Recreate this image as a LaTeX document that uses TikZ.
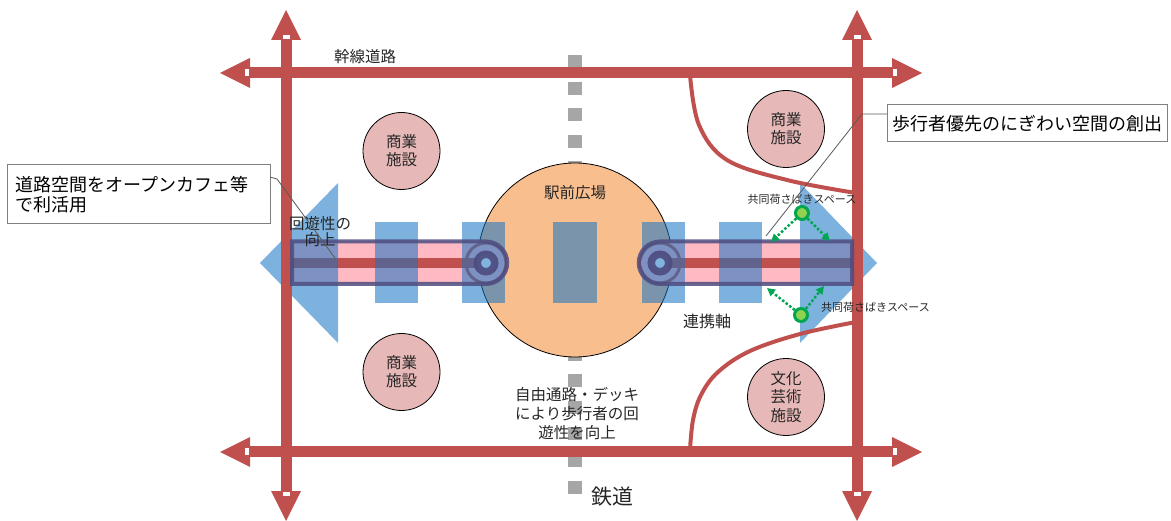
\documentclass[tikz,border=0pt]{standalone}
\usepackage{fontspec}
\setmainfont{Noto Sans CJK JP}
\usetikzlibrary{arrows.meta}
\definecolor{road}{HTML}{C0504D}
\definecolor{rail}{HTML}{A6A6A6}
\definecolor{plaza}{HTML}{F8BE8E}
\definecolor{facility}{HTML}{E6B9B8}
\definecolor{blueov}{RGB}{20,115,195}
\definecolor{purp}{RGB}{78,76,128}
\definecolor{bandpink}{RGB}{255,185,195}
\definecolor{holeblue}{RGB}{128,179,221}
\definecolor{gdark}{HTML}{00A651}
\definecolor{glight}{HTML}{92D050}
\definecolor{txt}{HTML}{262626}
\definecolor{leadergray}{HTML}{595959}
\begin{document}
\begin{tikzpicture}[x=1pt,y=-1pt,
  roadline/.style={draw=road, line width=11pt},
  roadhead/.style={fill=road},
  roadnotch/.style={fill=white},
  curveline/.style={draw=road, line width=4pt},
  fac/.style={circle, draw=black, line width=0.8pt, fill=facility, minimum size=77pt, inner sep=0pt,
              text=txt, align=center, font=\fontsize{15.5}{18}\selectfont},
  lbl/.style={text=txt, align=center, inner sep=0pt, font=\fontsize{15.5}{18}\selectfont},
  small/.style={text=txt, inner sep=0pt, font=\fontsize{11}{13}\selectfont},
  bluebox/.style={fill=blueov, fill opacity=0.55},
  capsule/.style={draw=purp, draw opacity=0.85, line width=4pt},
  ringp/.style={draw=purp, draw opacity=0.92, line width=7.5pt, fill=holeblue},
  gcirc/.style={circle, draw=gdark, line width=3pt, fill=glight, minimum size=13pt, inner sep=0pt},
  garrow/.style={draw=gdark, line width=2.5pt, dotted, -{Triangle[length=8pt,width=8pt]}},
  callout/.style={draw=gray, line width=1pt, fill=white, text=black, font=\fontsize{18}{20}\selectfont},
  leader/.style={draw=leadergray, line width=0.8pt}
]
\useasboundingbox (0,0) rectangle (1171,521);

% railway
\draw[rail, line width=14pt, dash pattern=on 13pt off 13.6pt] (575,55) -- (575,494);

% facilities and plaza
\node[circle, draw=black, line width=0.8pt, fill=plaza, minimum size=194pt, inner sep=0pt] (plaza) at (575,260) {};
\node[fac] (shopTL) at (401.5,151) {商業\\施設};
\node[fac] (shopBL) at (401.5,372) {商業\\施設};
\node[fac] (shopTR) at (786,129) {商業\\施設};
\node[fac, font=\fontsize{15.5}{18.5}\selectfont] (culture) at (786,397) {文化\\芸術\\施設};

% pedestrian bands (under blue)
\fill[bandpink] (290,241.5) rectangle (486,284);
\fill[bandpink] (486,263) circle[radius=21.25];
\draw[road, line width=10pt] (290,263) -- (486,263);
\draw[road, line width=3pt] (486,263) circle[radius=20];
\fill[bandpink] (660,241.5) rectangle (857,284);
\fill[bandpink] (660,263) circle[radius=21.25];
\draw[road, line width=10pt] (660,263) -- (857,263);
\draw[road, line width=3pt] (660,263) circle[radius=20];

% blue overlays
\fill[bluebox] (338,183) -- (260,263) -- (338,343) -- cycle;
\fill[bluebox] (375,222) rectangle (418,303);
\fill[bluebox] (462,222) rectangle (505,303);
\fill[bluebox] (553,222) rectangle (597,303);
\fill[bluebox] (642,222) rectangle (685,303);
\fill[bluebox] (719,222) rectangle (762,303);
\fill[bluebox] (800,183) -- (877,263) -- (800,343) -- cycle;

% roads
\draw[roadline] (250,73) -- (892,73);
\draw[roadline] (250,452) -- (892,452);
\draw[roadline] (286,39) -- (286,492);
\draw[roadline] (857,39) -- (857,492);
% heads
\fill[roadhead] (220,73) -- (250,58) -- (250,88) -- cycle;
\fill[roadhead] (922,73) -- (892,58) -- (892,88) -- cycle;
\fill[roadhead] (220,452) -- (250,437) -- (250,467) -- cycle;
\fill[roadhead] (922,452) -- (892,437) -- (892,467) -- cycle;
\fill[roadhead] (286,10) -- (271,40) -- (301,40) -- cycle;
\fill[roadhead] (857,10) -- (842,40) -- (872,40) -- cycle;
\fill[roadhead] (286,521) -- (271,491) -- (301,491) -- cycle;
\fill[roadhead] (857,521) -- (842,491) -- (872,491) -- cycle;
% notches
\fill[roadnotch] (245,69.5) rectangle (249,76.5);
\fill[roadnotch] (893,69.5) rectangle (897,76.5);
\fill[roadnotch] (245,448.5) rectangle (249,455.5);
\fill[roadnotch] (893,448.5) rectangle (897,455.5);
\fill[roadnotch] (282.5,35) rectangle (289.5,39);
\fill[roadnotch] (853.5,35) rectangle (860.5,39);
\fill[roadnotch] (282.5,492) rectangle (289.5,496);
\fill[roadnotch] (853.5,492) rectangle (860.5,496);

% curved streets
\draw[curveline] plot[smooth, tension=0.6] coordinates {(690,75) (699,125) (727,160) (787,180) (856,193)};
\draw[curveline] plot[smooth, tension=0.6] coordinates {(690,450) (693,420) (701,395) (718,372) (750,351) (800,334) (856,322)};

% purple capsules and rings
\draw[capsule] (400,241.5) [rounded corners=21.25pt] -- (507.25,241.5) -- (507.25,284) -- (400,284) [sharp corners] -- (292,284) -- (292,241.5) -- cycle;
\draw[capsule] (745,241.5) [rounded corners=21.25pt] -- (638.75,241.5) -- (638.75,284) -- (745,284) [sharp corners] -- (852,284) -- (852,241.5) -- cycle;
\draw[ringp] (486,263) circle[radius=8.75];
\draw[ringp] (660,263) circle[radius=8.75];

% green loading spaces
\node[gcirc] (g1) at (802,213) {};
\node[gcirc] (g2) at (801,315) {};
\coordinate (g1a) at (771,242);
\coordinate (g1b) at (830,241);
\coordinate (g2a) at (767,288);
\coordinate (g2b) at (824,286);
\draw[garrow] (g1) -- (g1a);
\draw[garrow] (g1) -- (g1b);
\draw[garrow] (g2) -- (g2a);
\draw[garrow] (g2) -- (g2b);
\node[small] (ld1) at (802,199) {共同荷さばきスペース};
\node[small, anchor=west] (ld2) at (821,307) {共同荷さばきスペース};

% labels
\node[lbl] (trunk) at (365,57) {幹線道路};
\node[lbl] (plazalbl) at (575,193) {駅前広場};
\node[lbl, font=\fontsize{16}{18}\selectfont] (axis) at (707,321) {連携軸};
\node[lbl, font=\fontsize{15.5}{16}\selectfont] (kaiyu) at (320,232) {回遊性の\\向上};
\node[lbl, font=\fontsize{15.5}{19}\selectfont] (deck) at (577,414) {自由通路・デッキ\\により歩行者の回\\遊性を向上};
\node[lbl, font=\fontsize{21}{24}\selectfont] (rail) at (612,497) {鉄道};

% callouts
\node[callout, minimum width=280pt, minimum height=37pt, inner sep=0pt] (callR) at (1027,123.5) {歩行者優先のにぎわい空間の創出};
\coordinate (cR0) at (887,114);
\coordinate (cR1) at (862,114);
\coordinate (cR2) at (766,236);
\draw[leader] (cR0) -- (cR1) -- (cR2);

\node[callout, text width=245pt, align=left, inner xsep=9pt, inner ysep=0pt, minimum height=59pt] (callL) at (138.5,194.5) {道路空間をオープンカフェ等\\で利活用};
\coordinate (cL0) at (270,177);
\coordinate (cL1) at (277,179);
\coordinate (cL2) at (335,258);
\draw[leader] (cL0) -- (cL1) -- (cL2);
\end{tikzpicture}
\end{document}
